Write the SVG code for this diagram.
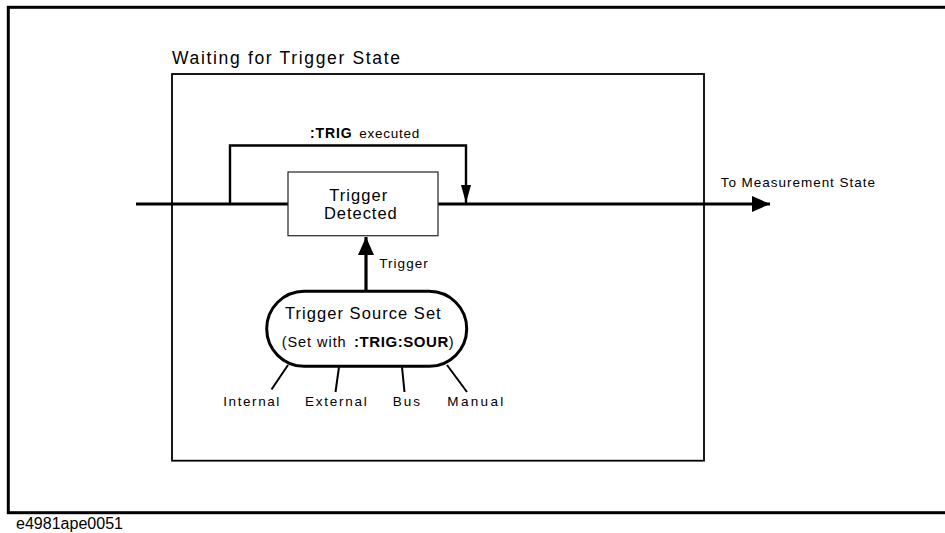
<svg xmlns="http://www.w3.org/2000/svg" width="945" height="533" viewBox="0 0 945 533">
<style>
text{font-family:"Liberation Sans",Arial,sans-serif;fill:#000}
.t16{font-size:16.5px}
.t13{font-size:13.5px}
.b{font-weight:bold}
.thick{fill:none;stroke:#000;stroke-width:3.2}
.mid{fill:none;stroke:#000;stroke-width:2.4}
.leg{fill:none;stroke:#000;stroke-width:2}
</style>
<defs>
<marker id="ah" viewBox="0 0 18 16" refX="18" refY="8" markerWidth="18" markerHeight="16" markerUnits="userSpaceOnUse" orient="auto"><path d="M0,0 L18,8 L0,16 z" fill="#000"/></marker>
<marker id="ahs" viewBox="0 0 18 10" refX="18" refY="5" markerWidth="18" markerHeight="10" markerUnits="userSpaceOnUse" orient="auto"><path d="M0,0 L18,5 L0,10 z" fill="#000"/></marker>
</defs>
<g id="frame">
<rect x="8.3" y="7.3" width="950" height="505.4" fill="none" stroke="#000" stroke-width="3"/>
<text x="16" y="529" style="font-size:16px" textLength="107" lengthAdjust="spacingAndGlyphs">e4981ape0051</text>
</g>
<g id="waiting-state">
<rect x="172" y="74" width="532" height="386.7" fill="none" stroke="#000" stroke-width="1.8"/>
<text x="172" y="64" style="font-size:17.5px" textLength="228" lengthAdjust="spacing">Waiting for Trigger State</text>
</g>
<g id="connectors">
<path class="thick" d="M136,204 H288"/>
<path class="thick" d="M438,204 H770" marker-end="url(#ah)"/>
<path class="mid" d="M230,204 V145.5 H466 V203" marker-end="url(#ahs)"/>
<path class="thick" d="M366,291 V237" marker-end="url(#ah)"/>
<path class="leg" d="M288,365 L271.5,389.5"/>
<path class="leg" d="M339,367 L335.5,392"/>
<path class="leg" d="M402,367 L404.5,392"/>
<path class="leg" d="M447,365 L467,392"/>
<text x="310" y="137.5" class="t13"><tspan class="b" style="font-size:14px" textLength="41.7" lengthAdjust="spacing">:TRIG</tspan><tspan x="359.3" textLength="60" lengthAdjust="spacing">executed</tspan></text>
<text x="379.3" y="268.3" class="t13" textLength="48.4" lengthAdjust="spacing">Trigger</text>
<text x="720.7" y="187" class="t13" textLength="154.3" lengthAdjust="spacing">To Measurement State</text>
</g>
<g id="trigger-detected">
<rect x="288" y="172" width="150" height="63.7" fill="#fff" stroke="#333" stroke-width="1.3"/>
<text x="329.3" y="200.7" class="t16" textLength="58" lengthAdjust="spacing">Trigger</text>
<text x="324" y="218.5" class="t16" textLength="72.7" lengthAdjust="spacing">Detected</text>
</g>
<g id="trigger-source-set">
<rect x="266.7" y="291.3" width="200" height="75" rx="37.5" ry="37.5" fill="#fff" stroke="#000" stroke-width="3"/>
<text x="285" y="319.3" class="t16" textLength="155.7" lengthAdjust="spacing">Trigger Source Set</text>
<text x="281.7" y="346.7" style="font-size:14.5px"><tspan textLength="64" lengthAdjust="spacing">(Set with</tspan><tspan x="354" class="b" style="font-size:15px" textLength="94.3" lengthAdjust="spacing">:TRIG:SOUR</tspan><tspan>)</tspan></text>
</g>
<g id="source-internal"><text x="223.3" y="405.5" class="t13" textLength="56" lengthAdjust="spacing">Internal</text></g>
<g id="source-external"><text x="305" y="405.5" class="t13" textLength="61.7" lengthAdjust="spacing">External</text></g>
<g id="source-bus"><text x="392.7" y="405.5" class="t13" textLength="27.3" lengthAdjust="spacing">Bus</text></g>
<g id="source-manual"><text x="447.3" y="405.5" class="t13" textLength="56" lengthAdjust="spacing">Manual</text></g>
</svg>
